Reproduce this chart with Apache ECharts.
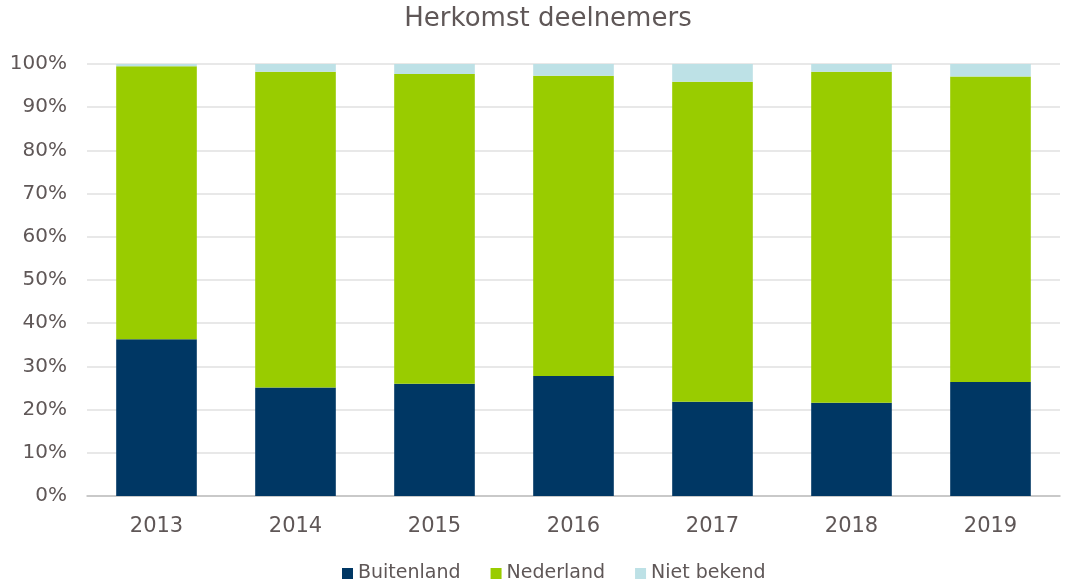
<!DOCTYPE html>
<html>
<head>
<meta charset="utf-8">
<script src="https://cdn.jsdelivr.net/npm/echarts@6/dist/echarts.min.js"></script>
<style>
html,body{margin:0;padding:0;background:#fff;}
#c{width:1070px;height:585px;}
</style>
</head>
<body>
<div id="c"></div>
<script>
var categories = ['2013','2014','2015','2016','2017','2018','2019'];
var buitenland = [36.3, 25.1, 26.0, 27.8, 21.8, 21.6, 26.4];
var nederland  = [63.2, 73.1, 71.7, 69.5, 74.1, 76.6, 70.7];
var nietBekend = [0.5, 1.8, 2.3, 2.7, 4.1, 1.8, 2.9];
var yTicks = [0,10,20,30,40,50,60,70,80,90,100];

var txt = '#5f5757';
var font = "'DejaVu Sans'";
var chart = echarts.init(document.getElementById('c'));
chart.setOption({
  animation: false,
  title: {
    text: 'Herkomst deelnemers',
    left: 548, top: 6, textAlign: 'center', padding: 0,
    textStyle: {color: txt, fontSize: 26, fontWeight: 'normal', fontFamily: font}
  },
  legend: {
    top: 564, left: 342, padding: 0,
    itemWidth: 11, itemHeight: 11, itemGap: 30,
    icon: 'rect',
    textStyle: {color: txt, fontSize: 19, fontFamily: font},
    data: ['Buitenland','Nederland','Niet bekend']
  },
  grid: {left: 87, right: 10, top: 64, bottom: 89, containLabel: false},
  xAxis: {
    type: 'category',
    data: categories,
    axisLine: {lineStyle: {color: '#bfbfbf', width: 1.5}},
    axisTick: {show: false},
    axisLabel: {color: txt, fontSize: 21, fontFamily: font, margin: 20}
  },
  yAxis: {
    type: 'value',
    min: yTicks[0], max: yTicks[yTicks.length-1], interval: 10,
    axisLine: {show: false},
    axisTick: {show: false},
    splitLine: {lineStyle: {color: '#e0e0e0', width: 1.5}},
    axisLabel: {color: txt, fontSize: 20, fontFamily: font, margin: 20,
      formatter: function(v){ return v + '%'; }}
  },
  series: [
    {name: 'Buitenland', type: 'bar', stack: 't', data: buitenland, barWidth: '58%',
      itemStyle: {color: '#003764'}},
    {name: 'Nederland', type: 'bar', stack: 't', data: nederland, barWidth: '58%',
      itemStyle: {color: '#99cc00'}},
    {name: 'Niet bekend', type: 'bar', stack: 't', data: nietBekend, barWidth: '58%',
      itemStyle: {color: '#bde1e6'}}
  ]
});
</script>
</body>
</html>
